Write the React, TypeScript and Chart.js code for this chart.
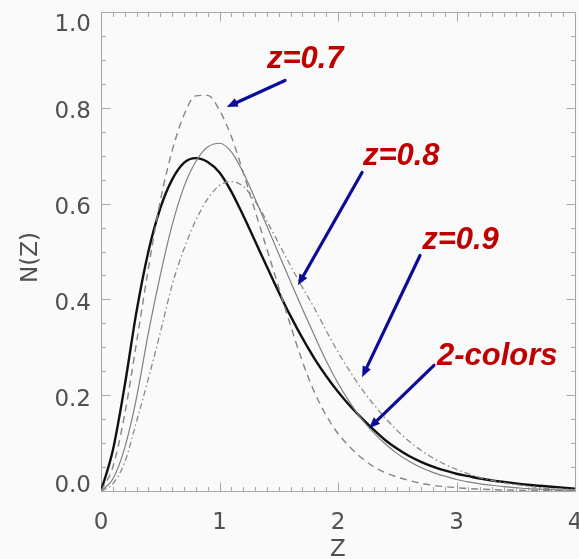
import { useEffect, useRef } from "react";
import { Chart, registerables } from "chart.js";

Chart.register(...registerables);

// Redshift grid on which N(Z) is tabulated
const zGrid = [
  0.0, 0.1, 0.2, 0.3, 0.4, 0.5, 0.6, 0.7, 0.8, 0.9,
  1.0, 1.1, 1.2, 1.3, 1.4, 1.5, 1.6, 1.7, 1.8, 1.9,
  2.0, 2.1, 2.2, 2.3, 2.4, 2.5, 2.6, 2.7, 2.8, 2.9,
  3.0, 3.1, 3.2, 3.3, 3.4, 3.5, 3.6, 3.7, 3.8, 3.9, 4.0,
];

// N(Z) for the limiting-redshift selections
const nzZ07 = [
  0.0, 0.05, 0.16, 0.31, 0.465, 0.605, 0.71, 0.785, 0.825, 0.826,
  0.795, 0.74, 0.665, 0.585, 0.505, 0.425, 0.345, 0.27, 0.207, 0.158,
  0.12, 0.092, 0.069, 0.051, 0.038, 0.029, 0.022, 0.016, 0.012, 0.009,
  0.007, 0.005, 0.004, 0.003, 0.002, 0.002, 0.001, 0.001, 0.001, 0.001, 0.0,
];
const nzZ08 = [
  0.0, 0.025, 0.09, 0.195, 0.33, 0.45, 0.555, 0.635, 0.688, 0.718,
  0.726, 0.708, 0.665, 0.61, 0.553, 0.495, 0.437, 0.38, 0.325, 0.272,
  0.225, 0.185, 0.15, 0.122, 0.098, 0.078, 0.062, 0.049, 0.039, 0.031,
  0.024, 0.019, 0.015, 0.012, 0.009, 0.007, 0.005, 0.004, 0.003, 0.002, 0.002,
];
const nzZ09 = [
  0.0, 0.015, 0.06, 0.145, 0.235, 0.33, 0.43, 0.505, 0.565, 0.61,
  0.638, 0.646, 0.636, 0.605, 0.563, 0.517, 0.47, 0.425, 0.382, 0.335,
  0.29, 0.25, 0.213, 0.181, 0.152, 0.126, 0.104, 0.085, 0.069, 0.056,
  0.045, 0.036, 0.028, 0.022, 0.017, 0.013, 0.01, 0.007, 0.005, 0.004, 0.003,
];
const nzTwoColors = [
  0.0, 0.085, 0.22, 0.375, 0.5, 0.59, 0.65, 0.685, 0.695, 0.687,
  0.665, 0.625, 0.575, 0.522, 0.468, 0.415, 0.365, 0.319, 0.277, 0.24,
  0.207, 0.178, 0.152, 0.128, 0.106, 0.088, 0.073, 0.061, 0.051, 0.043,
  0.036, 0.031, 0.026, 0.022, 0.019, 0.016, 0.013, 0.011, 0.009, 0.007, 0.005,
];

const xTickValues = [0, 1, 2, 3, 4];
const yTickValues = [0, 0.2, 0.4, 0.6, 0.8, 1.0];
const xTitle = "Z";
const yTitle = "N(Z)";

// Callout labels (text and anchor in data units) and their arrows
const calloutTexts = ["z=0.7", "z=0.8", "z=0.9", "2-colors"];
const calloutZ = [1.4, 2.21, 2.71, 2.835];
const calloutN = [0.8825, 0.68, 0.5046, 0.2624];
const arrowFromZ = [1.553, 2.203, 2.692, 2.81];
const arrowFromN = [0.857, 0.665, 0.4917, 0.2624];
const arrowToZ = [1.061, 1.662, 2.203, 2.262];
const arrowToN = [0.8017, 0.4295, 0.2374, 0.131];

const W = 579;
const H = 559;
const AXIS_COLOR = "#a6a6a6";
const LABEL_COLOR = "#505050";
const LABEL_FONT = '23px "DejaVu Sans", sans-serif';
const CALLOUT_FONT = 'italic bold 31px "Liberation Sans", Arial, sans-serif';
const CALLOUT_COLOR = "#c00000";
const ARROW_COLOR = "#0c0c98";

const idlAxes = {
  id: "idlAxes",
  beforeDraw(chart: any) {
    const { ctx, width, height } = chart;
    ctx.save();
    ctx.fillStyle = "#fafafa";
    ctx.fillRect(0, 0, width, height);
    ctx.restore();
  },
  beforeDatasetsDraw(chart: any) {
    const { ctx, chartArea, scales } = chart;
    const xs = scales.x;
    const ys = scales.y;
    const { left, right, top, bottom } = chartArea;
    ctx.save();
    ctx.strokeStyle = AXIS_COLOR;
    ctx.lineWidth = 1;
    ctx.beginPath();
    const l = Math.round(left) + 0.5;
    const r = Math.round(right) + 0.5;
    const t = Math.round(top) + 0.5;
    const b = Math.round(bottom) + 0.5;
    ctx.rect(l, t, r - l, b - t);
    // inward ticks on all four sides: majors every 1 / 0.2, minors every 0.1 / 0.05
    for (let i = 0; i <= 40; i++) {
      const len = i % 10 === 0 ? 9 : 4.5;
      const px = Math.round(xs.getPixelForValue(i / 10)) + 0.5;
      ctx.moveTo(px, b);
      ctx.lineTo(px, b - len);
      ctx.moveTo(px, t);
      ctx.lineTo(px, t + len);
    }
    for (let i = 0; i <= 20; i++) {
      const len = i % 4 === 0 ? 9 : 4.5;
      const py = Math.round(ys.getPixelForValue(i / 20)) + 0.5;
      ctx.moveTo(l, py);
      ctx.lineTo(l + len, py);
      ctx.moveTo(r, py);
      ctx.lineTo(r - len, py);
    }
    ctx.stroke();

    // tick labels
    ctx.fillStyle = LABEL_COLOR;
    ctx.font = LABEL_FONT;
    ctx.textBaseline = "alphabetic";
    ctx.textAlign = "center";
    for (const v of xTickValues) {
      ctx.fillText(String(v), xs.getPixelForValue(v), bottom + 37.5);
    }
    ctx.textAlign = "right";
    for (const v of yTickValues) {
      const py = ys.getPixelForValue(v);
      const base = Math.min(Math.max(py + 10.5, top + 18.5), bottom + 1);
      ctx.fillText(v.toFixed(1), left - 10, base);
    }

    // axis titles
    ctx.textAlign = "center";
    ctx.fillText(xTitle, (left + right) / 2, H - 3);
    ctx.save();
    ctx.translate(36.5, (top + bottom) / 2 + 6);
    ctx.rotate(-Math.PI / 2);
    ctx.fillText(yTitle, 0, 0);
    ctx.restore();
    ctx.restore();
  },
  afterDraw(chart: any) {
    const { ctx, scales } = chart;
    const xs = scales.x;
    const ys = scales.y;
    ctx.save();
    // arrows
    ctx.strokeStyle = ARROW_COLOR;
    ctx.fillStyle = ARROW_COLOR;
    ctx.lineWidth = 3.2;
    ctx.lineCap = "round";
    for (let i = 0; i < arrowFromZ.length; i++) {
      const x0 = xs.getPixelForValue(arrowFromZ[i]);
      const y0 = ys.getPixelForValue(arrowFromN[i]);
      const x1 = xs.getPixelForValue(arrowToZ[i]);
      const y1 = ys.getPixelForValue(arrowToN[i]);
      const ang = Math.atan2(y1 - y0, x1 - x0);
      const head = 11;
      const half = 4.5;
      const bx = x1 - head * Math.cos(ang);
      const by = y1 - head * Math.sin(ang);
      ctx.beginPath();
      ctx.moveTo(x0, y0);
      ctx.lineTo(bx, by);
      ctx.stroke();
      ctx.beginPath();
      ctx.moveTo(x1, y1);
      ctx.lineTo(bx + half * Math.sin(ang), by - half * Math.cos(ang));
      ctx.lineTo(bx - half * Math.sin(ang), by + half * Math.cos(ang));
      ctx.closePath();
      ctx.fill();
    }
    // callout text
    ctx.fillStyle = CALLOUT_COLOR;
    ctx.font = CALLOUT_FONT;
    ctx.textAlign = "left";
    ctx.textBaseline = "alphabetic";
    for (let i = 0; i < calloutTexts.length; i++) {
      ctx.fillText(
        calloutTexts[i],
        xs.getPixelForValue(calloutZ[i]),
        ys.getPixelForValue(calloutN[i])
      );
    }
    ctx.restore();
  },
};

function series(values: number[]) {
  return zGrid.map((z, i) => ({ x: z, y: values[i] }));
}

export default function App() {
  const canvasRef = useRef<HTMLCanvasElement | null>(null);

  useEffect(() => {
    const canvas = canvasRef.current;
    if (!canvas) return;
    const common = {
      pointRadius: 0,
      fill: false,
      cubicInterpolationMode: "monotone" as const,
    };
    const chart = new Chart(canvas, {
      type: "line",
      data: {
        datasets: [
          {
            ...common,
            label: "z=0.7",
            data: series(nzZ07),
            borderColor: "#858585",
            borderWidth: 1.4,
            borderDash: [7, 5],
          },
          {
            ...common,
            label: "z=0.8",
            data: series(nzZ08),
            borderColor: "#808080",
            borderWidth: 1.2,
          },
          {
            ...common,
            label: "z=0.9",
            data: series(nzZ09),
            borderColor: "#8a8a8a",
            borderWidth: 1.3,
            borderDash: [6, 3, 1.5, 3],
          },
          {
            ...common,
            label: "2-colors",
            data: series(nzTwoColors),
            borderColor: "#111111",
            borderWidth: 2.4,
          },
        ],
      },
      options: {
        animation: false,
        responsive: false,
        devicePixelRatio: 1,
        events: [],
        layout: { padding: { top: 12, right: 4, left: 0, bottom: 0 } },
        plugins: { legend: { display: false }, tooltip: { enabled: false } },
        scales: {
          x: {
            type: "linear",
            min: 0,
            max: 4,
            grid: { display: false },
            border: { display: false },
            ticks: { display: false },
            afterFit(s: any) {
              s.height = 68;
            },
          },
          y: {
            type: "linear",
            min: 0,
            max: 1,
            grid: { display: false },
            border: { display: false },
            ticks: { display: false },
            afterFit(s: any) {
              s.width = 101;
            },
          },
        },
      },
      plugins: [idlAxes],
    });
    return () => chart.destroy();
  }, []);

  return (
    <div style={{ position: "fixed", left: 0, top: 0, width: W, height: H }}>
      <canvas ref={canvasRef} width={W} height={H} style={{ width: W, height: H, display: "block" }} />
    </div>
  );
}
